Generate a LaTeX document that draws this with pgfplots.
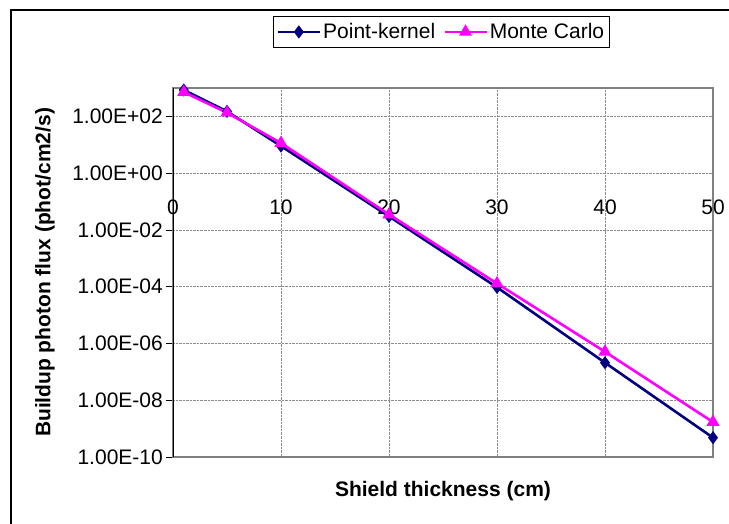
\documentclass[border=0pt]{standalone}
\usepackage{pgfplots}
\pgfplotsset{compat=1.18}
\usepackage{fontspec}
\setmainfont{Liberation Sans}
\definecolor{pknavy}{RGB}{0,0,128}
\definecolor{mcmag}{RGB}{255,0,255}
\begin{document}
\begin{tikzpicture}[font=\fontsize{21bp}{25bp}\selectfont]
\useasboundingbox (0,0) rectangle (729bp,-524bp);
\fill[white] (0,0) rectangle (729bp,-524bp);
\draw[black, line width=1.2bp] (11bp,-524bp) -- (11bp,-10bp) -- (729bp,-10bp);
\begin{axis}[
  at={(173bp,-88bp)}, anchor=north west,
  scale only axis, width=540bp, height=369bp,
  xmin=0, xmax=50, ymode=log, ymin=1e-10, ymax=1e3,
  xtick={0,10,20,30,40,50}, xticklabels={0,10,20,30,40,50},
  ytick={1e-10,1e-8,1e-6,1e-4,1e-2,1,1e2},
  yticklabels={1.00E-10,1.00E-08,1.00E-06,1.00E-04,1.00E-02,1.00E+00,1.00E+02},
  minor tick length=0pt,
  grid=major, grid style={densely dotted, black!45, line width=0.8bp},
  axis line style={draw=black!50, line width=1.2bp},
  tick align=outside, ytick pos=left, major tick length=7bp,
  ytick style={black, line width=0.8bp}, xtick style={draw=none},
  xticklabel style={yshift=268bp},
  yticklabel style={inner xsep=3bp},
  xlabel={\textbf{Shield thickness (cm)}},
  xlabel style={at={(rel axis cs:0.5,-0.092)}, anchor=center},
  ylabel={\textbf{Buildup photon flux (phot/cm2/s)}},
  ylabel style={at={(rel axis cs:-0.237,0.5)}, anchor=center},
  legend columns=2,
  legend style={at={(rel axis cs:0.497,1.152)}, anchor=center, draw=black, line width=1bp,
    inner xsep=3bp, inner ysep=5bp,
    /tikz/every even column/.append style={column sep=6bp}},
  legend image code/.code={\draw[mark repeat=2,mark phase=2,#1] plot coordinates {(0bp,0bp) (21bp,0bp) (42bp,0bp)};},
]
\addplot[pknavy, line width=2.6bp, mark=diamond*, mark size=4.5bp, mark options={solid, fill=pknavy}]
  coordinates {(1,850) (5,150) (10,9.0) (20,0.030) (30,9.5e-5) (40,2.1e-7) (50,4.8e-10)};
\addlegendentry{Point-kernel}
\addplot[mcmag, line width=2.6bp, mark=triangle*, mark size=5bp, mark options={solid, fill=mcmag}]
  coordinates {(1,720) (5,135) (10,11.5) (20,0.035) (30,1.3e-4) (40,5.1e-7) (50,1.7e-9)};
\addlegendentry{Monte Carlo}
\draw[black, line width=1.2bp] (rel axis cs:0,0) -- (rel axis cs:0,1);
\end{axis}
\end{tikzpicture}
\end{document}
